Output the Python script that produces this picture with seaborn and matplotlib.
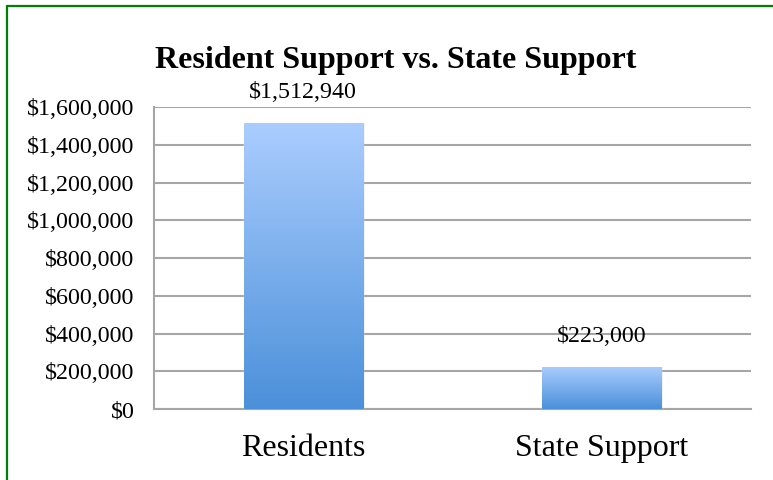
import numpy as np
import pandas as pd
import matplotlib
matplotlib.use("Agg")
import matplotlib.pyplot as plt
import seaborn as sns
from matplotlib.colors import LinearSegmentedColormap
from matplotlib.ticker import FuncFormatter, MultipleLocator
from matplotlib.lines import Line2D

categories = ["Residents", "State Support"]
values = [1512940, 223000]
value_labels = ["$1,512,940", "$223,000"]

sns.set_theme(style="white")
plt.rcParams['font.family'] = ['Liberation Serif', 'DejaVu Serif']

fig = plt.figure(figsize=(7.73, 4.8), dpi=100)
ax = fig.add_axes([0.1992, 0.1479, 0.7723, 0.6291])

df = pd.DataFrame({"cat": categories, "val": values})
sns.barplot(data=df, x="cat", y="val", ax=ax, width=0.40, color="#8ab8f0", saturation=1)

ax.set_ylim(0, 1600000)
ax.set_xlim(-0.5, 1.5)
ax.yaxis.set_major_locator(MultipleLocator(200000))
ax.yaxis.set_major_formatter(FuncFormatter(lambda v, p: f"${v:,.0f}"))
ax.grid(axis="y", color="#a6a6a6", linewidth=1.5, zorder=0)
ax.set_axisbelow(True)
for s in ["top", "right"]:
    ax.spines[s].set_visible(False)
for s in ["left", "bottom"]:
    ax.spines[s].set_color("#a6a6a6")
    ax.spines[s].set_linewidth(1.5)
ax.tick_params(axis="y", labelsize=17.3, colors="black", length=0, pad=14)
ax.tick_params(axis="x", labelsize=23, colors="black", length=0, pad=18)
ax.set_xlabel("")
ax.set_ylabel("")

cmap = LinearSegmentedColormap.from_list("g", ["#4b90da", "#aacdfe"])
grad = np.linspace(0, 1, 256).reshape(-1, 1)
for patch in list(ax.patches):
    x0, y0 = patch.get_x(), patch.get_y()
    w, h = patch.get_width(), patch.get_height()
    sh = plt.Rectangle((x0 + 0.006, y0), w, h, facecolor="#000000", alpha=0.06,
                       edgecolor="none", zorder=2)
    ax.add_patch(sh)
    im = ax.imshow(grad, extent=[x0, x0 + w, y0, y0 + h], origin="lower",
                   cmap=cmap, aspect="auto", zorder=3)
    im.set_clip_path(patch)
    patch.set_zorder(3)
ax.set_xlim(-0.5, 1.5)
ax.set_ylim(0, 1600000)

for i, (v, lab) in enumerate(zip(values, value_labels)):
    ax.annotate(lab, (i, v), xytext=(0, 18), textcoords="offset points",
                ha="center", va="baseline", fontsize=17.3, color="black")

fig.text(0.5117, 1 - 68 / 480, "Resident Support vs. State Support", ha="center",
         va="baseline", fontsize=23, fontweight="bold", color="black")

fig.add_artist(Line2D([7.5 / 773, 7.5 / 773], [0, 1 - 5.5 / 480], color="#008000",
                      linewidth=1.6, transform=fig.transFigure))
fig.add_artist(Line2D([7.5 / 773, 1], [1 - 5.5 / 480, 1 - 5.5 / 480], color="#008000",
                      linewidth=1.6, transform=fig.transFigure))

fig.savefig("out.png", dpi=100)
